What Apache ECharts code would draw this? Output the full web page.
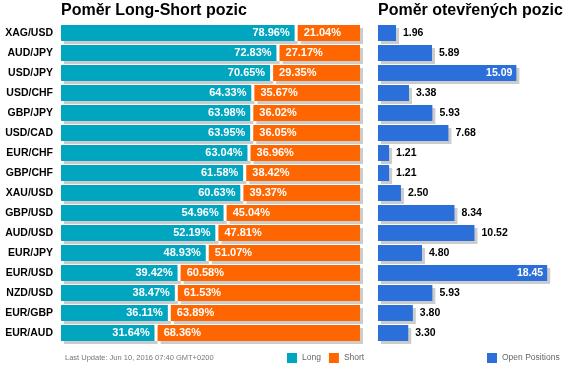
<!DOCTYPE html>
<html>
<head>
<meta charset="utf-8">
<script src="https://cdn.jsdelivr.net/npm/echarts@6/dist/echarts.min.js"></script>
<style>html,body{margin:0;padding:0;background:#fff}#c{width:570px;height:370px}</style>
</head>
<body>
<div id="c"></div>
<script>
const categories = ['XAG/USD','AUD/JPY','USD/JPY','USD/CHF','GBP/JPY','USD/CAD','EUR/CHF','GBP/CHF','XAU/USD','GBP/USD','AUD/USD','EUR/JPY','EUR/USD','NZD/USD','EUR/GBP','EUR/AUD'];
const longPct = [78.96,72.83,70.65,64.33,63.98,63.95,63.04,61.58,60.63,54.96,52.19,48.93,39.42,38.47,36.11,31.64];
const shortPct = [21.04,27.17,29.35,35.67,36.02,36.05,36.96,38.42,39.37,45.04,47.81,51.07,60.58,61.53,63.89,68.36];
const openPos = [1.96,5.89,15.09,3.38,5.93,7.68,1.21,1.21,2.50,8.34,10.52,4.80,18.45,5.93,3.80,3.30];
const titleLeft = 'Poměr Long-Short pozic';
const titleRight = 'Poměr otevřených pozic';
const updateText = 'Last Update: Jun 10, 2016 07:40 GMT+0200';

const FONT = '"Liberation Sans", Arial, sans-serif';
const TEAL = '#00a5bf', ORANGE = '#ff6600', BLUE = '#2b6fdb', SHADOW = '#cccccc';
const shadowStyle = {shadowColor: SHADOW, shadowOffsetX: 3, shadowOffsetY: 3, shadowBlur: 0};

const chart = echarts.init(document.getElementById('c'), null, {renderer: 'canvas'});
chart.setOption({
  animation: false,
  textStyle: {fontFamily: FONT},
  title: [
    {text: titleLeft, left: 61, top: 3, textStyle: {fontFamily: FONT, fontSize: 16, fontWeight: 'bold', color: '#000'}, padding: 0},
    {text: titleRight, left: 378, top: 3, textStyle: {fontFamily: FONT, fontSize: 16, fontWeight: 'bold', color: '#000'}, padding: 0}
  ],
  legend: [
    {data: ['Long', 'Short'], left: 287, top: 353, padding: 0, itemWidth: 10, itemHeight: 10, itemGap: 8, icon: 'rect',
     textStyle: {fontFamily: FONT, fontSize: 8.5, color: '#666'}},
    {data: ['Open Positions'], left: 487, top: 353, padding: 0, itemWidth: 10, itemHeight: 10, icon: 'rect',
     textStyle: {fontFamily: FONT, fontSize: 8.5, color: '#666'}}
  ],
  graphic: [
    {type: 'text', left: 65, top: 354, style: {text: updateText, fill: '#777', font: '7.5px ' + FONT}}
  ],
  grid: [
    {left: 61, top: 23, width: 299, height: 320},
    {left: 378, top: 23, width: 183.4, height: 320}
  ],
  xAxis: [
    {gridIndex: 0, type: 'value', min: 0, max: 101, show: false},
    {gridIndex: 1, type: 'value', min: 0, max: 20, show: false}
  ],
  yAxis: [
    {gridIndex: 0, type: 'category', data: categories, inverse: true,
     axisLine: {show: false}, axisTick: {show: false}, splitLine: {show: false},
     axisLabel: {margin: 8, color: '#000', fontWeight: 'bold', fontSize: 10.5, fontFamily: FONT}},
    {gridIndex: 1, type: 'category', data: categories, inverse: true, show: false}
  ],
  series: [
    {name: 'Long', type: 'bar', stack: 'ls', xAxisIndex: 0, yAxisIndex: 0, barWidth: 16,
     data: longPct, itemStyle: Object.assign({color: TEAL}, shadowStyle),
     label: {show: true, position: 'insideRight', distance: 5, color: '#fff', fontWeight: 'bold', fontSize: 11, fontFamily: FONT,
       formatter: p => p.value.toFixed(2) + '%'}},
    {name: 'gap', type: 'bar', stack: 'ls', xAxisIndex: 0, yAxisIndex: 0, barWidth: 16,
     data: categories.map(() => 1), itemStyle: {color: '#ffffff'}, silent: true},
    {name: 'Short', type: 'bar', stack: 'ls', xAxisIndex: 0, yAxisIndex: 0, barWidth: 16,
     data: shortPct, itemStyle: Object.assign({color: ORANGE}, shadowStyle),
     label: {show: true, position: 'insideLeft', distance: 6, color: '#fff', fontWeight: 'bold', fontSize: 11, fontFamily: FONT,
       formatter: p => p.value.toFixed(2) + '%'}},
    {name: 'Open Positions', type: 'bar', xAxisIndex: 1, yAxisIndex: 1, barWidth: 16,
     itemStyle: Object.assign({color: BLUE}, shadowStyle),
     label: {show: true, position: 'right', distance: 7, color: '#000', fontWeight: 'bold', fontSize: 10.5, fontFamily: FONT,
       formatter: p => p.value.toFixed(2)},
     data: openPos.map(v => v > 12
       ? {value: v, label: {position: 'insideRight', distance: 4, color: '#fff'}}
       : v)}
  ]
});
</script>
</body>
</html>
